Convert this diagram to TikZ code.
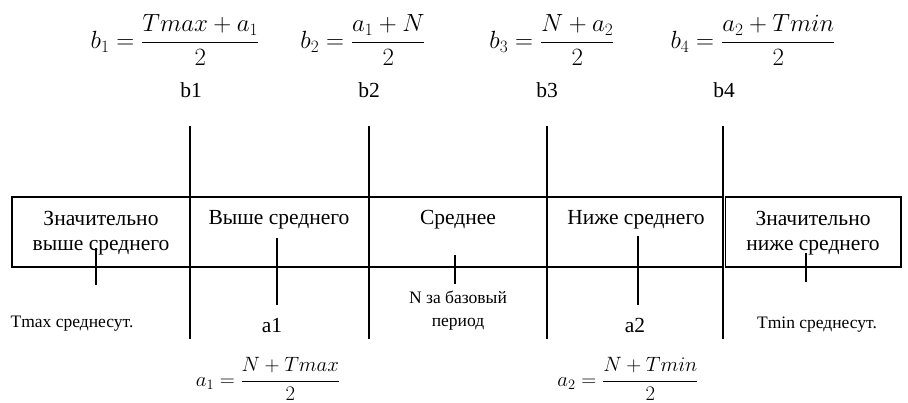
\documentclass[tikz,border=0pt]{standalone}
\usepackage{fontspec}
\setmainfont{Liberation Serif}
\begin{document}
\begin{tikzpicture}[x=1pt,y=-1pt,line width=1.2pt,
  txt/.style={font=\fontsize{21.5}{25.5}\selectfont,align=center,inner sep=0pt},
  sml/.style={font=\fontsize{17.5}{23}\selectfont,align=center,inner sep=0pt},
  frm/.style={font=\fontsize{23.5}{28}\selectfont,inner sep=0pt,anchor=base},
  frmb/.style={font=\fontsize{21}{25}\selectfont,inner sep=0pt,anchor=base}]
\useasboundingbox (0,0) rectangle (908,403);
% box
\coordinate (bl) at (12,197);
\coordinate (br) at (723,267);
\coordinate (cl) at (725.5,197);
\coordinate (cr) at (901,267);
\draw (bl) rectangle (br);
\draw (cl) rectangle (cr);
% dividers
\foreach \i/\x in {1/190,2/369,3/547,4/723}{
  \coordinate (d\i t) at (\x,126);
  \coordinate (d\i b) at (\x,339);
  \draw (d\i t) -- (d\i b);
}
% top formulas
\node[frm] (fb1) at (175,48.5) {$\displaystyle b_1=\frac{Tmax+a_1}{2}$};
\node[frm] (fb2) at (363,48.5) {$\displaystyle b_2=\frac{a_1+N}{2}$};
\node[frm] (fb3) at (552,48.5) {$\displaystyle b_3=\frac{N+a_2}{2}$};
\node[frm] (fb4) at (753,48.5) {$\displaystyle b_4=\frac{a_2+Tmin}{2}$};
% b labels
\node[txt,anchor=base] (lb1) at (191,98) {b1};
\node[txt,anchor=base] (lb2) at (369,98) {b2};
\node[txt,anchor=base] (lb3) at (547,98) {b3};
\node[txt,anchor=base] (lb4) at (724,98) {b4};
% cell texts
\node[txt] (c1) at (101,233) {Значительно\\выше среднего};
\node[txt,anchor=base] (c2) at (279,225) {Выше среднего};
\node[txt,anchor=base] (c3) at (458,225) {Среднее};
\node[txt,anchor=base] (c4) at (636,225) {Ниже среднего};
\node[txt] (c5) at (813,233) {Значительно\\ниже среднего};
% ticks
\coordinate (t1a) at (96,248);  \coordinate (t1b) at (96,285);
\coordinate (t2a) at (277,238); \coordinate (t2b) at (277,305);
\coordinate (t3a) at (455,255); \coordinate (t3b) at (455,284);
\coordinate (t4a) at (638,236); \coordinate (t4b) at (638,305);
\coordinate (t5a) at (806,253); \coordinate (t5b) at (806,282);
\foreach \i in {1,...,5}{\draw (t\i a) -- (t\i b);}
% bottom labels
\node[sml,anchor=base] (tmax) at (72,328) {Tmax среднесут.};
\node[txt,anchor=base] (la1) at (272,333) {a1};
\node[sml] (nn) at (458,311) {N за базовый\\период};
\node[txt,anchor=base] (la2) at (635,333) {a2};
\node[sml,anchor=base] (tmin) at (817,329) {Tmin среднесут.};
% bottom formulas
\node[frmb] (fa1) at (268,386) {$\displaystyle a_1=\frac{N+Tmax}{2}$};
\node[frmb] (fa2) at (628,386) {$\displaystyle a_2=\frac{N+Tmin}{2}$};
\end{tikzpicture}
\end{document}
